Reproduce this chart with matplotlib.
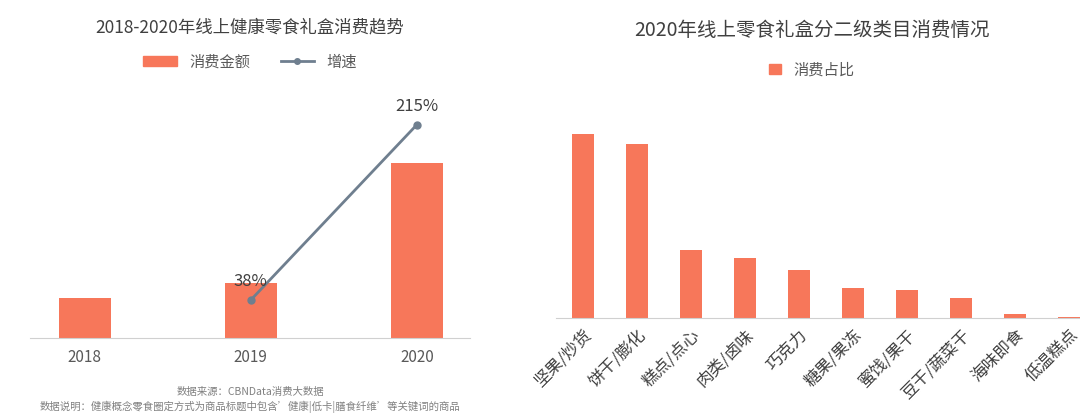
import matplotlib.pyplot as plt
from matplotlib.lines import Line2D
from matplotlib.patches import Patch

plt.rcParams['font.family'] = ['Noto Sans CJK SC', 'DejaVu Sans']

years = ['2018', '2019', '2020']
amount = [40, 55, 175]
growth = [None, 38, 215]
growth_labels = ['', '38%', '215%']

cats = ['坚果/炒货', '饼干/膨化', '糕点/点心', '肉类/卤味', '巧克力', '糖果/果冻',
        '蜜饯/果干', '豆干/蔬菜干', '海味即食', '低温糕点']
share = [184, 174, 68, 60, 48, 30, 28, 20, 4, 0.6]

bar_c = '#f7775a'
line_c = '#6f7f8f'
grey = '#595959'


def main():
    fig = plt.figure(figsize=(10.8, 4.19), dpi=100)

    # left panel
    ax = fig.add_axes([30 / 1080, 81 / 419, 440 / 1080, 244 / 419])
    x = range(len(years))
    ax.bar(x, amount, width=0.31, color=bar_c)
    ax.set_xlim(-0.33, 2.32)
    ax.set_ylim(0, 244)
    ax.set_xticks(list(x), years, color=grey, fontsize=11)
    ax.tick_params(length=0, pad=8)
    ax.set_yticks([])
    for s in ['top', 'left', 'right']:
        ax.spines[s].set_visible(False)
    ax.spines['bottom'].set_color('#d0d0d0')
    ax2 = ax.twinx()
    ax2.plot([1, 2], growth[1:], color=line_c, lw=2, marker='o', ms=5)
    ax2.set_ylim(-0.4, 246)
    ax2.axis('off')
    for i in (1, 2):
        ax2.text(i, growth[i] + 10, growth_labels[i], ha='center', va='bottom',
                 fontsize=12, color='#404040')
    fig.text(250 / 1080, 1 - 27 / 419, '2018-2020年线上健康零食礼盒消费趋势',
             ha='center', va='center', fontsize=12.5, color='#404040')
    fig.legend(handles=[Patch(color=bar_c, label='消费金额'),
                        Line2D([], [], color=line_c, lw=2, marker='o', ms=4, label='增速')],
               loc='center', bbox_to_anchor=(250 / 1080, 1 - 62 / 419), ncol=2,
               frameon=False, fontsize=11, handlelength=2.2, labelcolor=grey)
    fig.text(250 / 1080, 1 - 392 / 419, '数据来源：CBNData消费大数据',
             ha='center', va='center', fontsize=7.5, color='#808080')
    fig.text(250 / 1080, 1 - 407 / 419,
             "数据说明：健康概念零食圈定方式为商品标题中包含’健康|低卡|膳食纤维’等关键词的商品",
             ha='center', va='center', fontsize=7.5, color='#808080')

    # right panel
    bx = fig.add_axes([556 / 1080, 101 / 419, 524 / 1080, 220 / 419])
    xr = range(len(cats))
    bx.bar(xr, share, width=0.41, color=bar_c)
    bx.set_xlim(-0.5, 9.2)
    bx.set_ylim(0, 220)
    bx.set_xticks(list(xr), cats, rotation=45, ha='right', rotation_mode='anchor',
                  fontsize=12, color='#404040')
    bx.tick_params(length=0, pad=6)
    bx.set_yticks([])
    for s in ['top', 'left', 'right']:
        bx.spines[s].set_visible(False)
    bx.spines['bottom'].set_color('#d0d0d0')
    fig.text(812 / 1080, 1 - 30 / 419, '2020年线上零食礼盒分二级类目消费情况',
             ha='center', va='center', fontsize=14, color='#404040')
    fig.legend(handles=[Patch(color=bar_c, label='消费占比')], loc='center',
               bbox_to_anchor=(812 / 1080, 1 - 70 / 419), frameon=False,
               fontsize=11, handlelength=0.8, labelcolor=grey)

    fig.savefig('out.png', dpi=100)


if __name__ == '__main__':
    main()
